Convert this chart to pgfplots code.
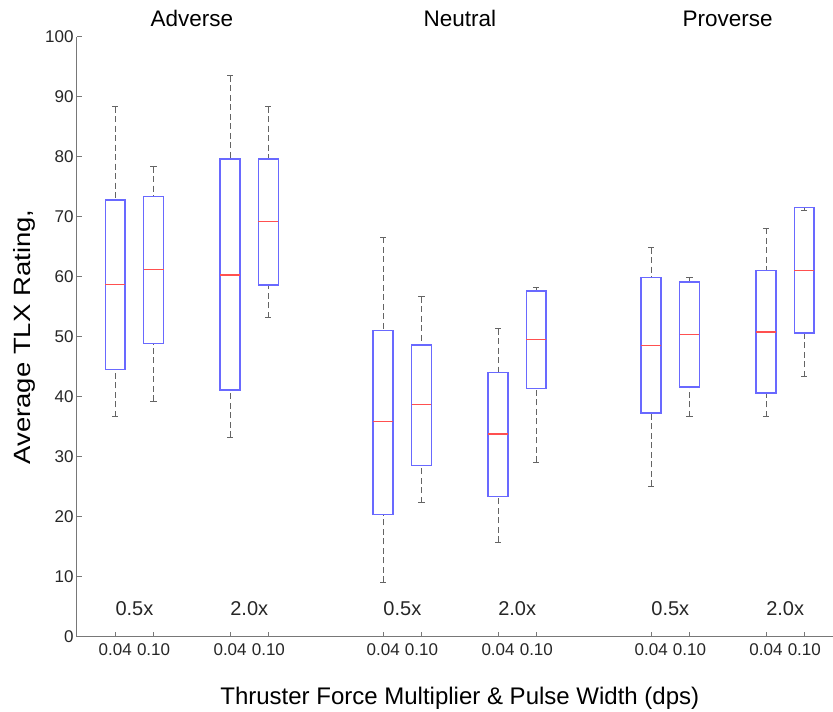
\documentclass[border=0pt]{standalone}
\usepackage{fontspec}
\setmainfont{Liberation Sans}
\usepackage{pgfplots}
\pgfplotsset{compat=1.18}
\usepgfplotslibrary{statistics}

\definecolor{boxblue}{RGB}{105,105,255}
\definecolor{medred}{RGB}{255,80,80}
\definecolor{whisk}{RGB}{100,100,100}
\definecolor{axgray}{RGB}{120,120,120}

\pgfplotsset{
 mybox/.style={
  boxplot/draw direction=y,
  boxplot/box extend=0.52,
  boxplot/whisker extend=0.16,
  boxplot/every box/.style={draw=boxblue, line width=1.6pt},
  boxplot/every median/.style={draw=medred, line width=1.4pt},
  boxplot/draw/lower whisker/.code={%
    \draw[whisk, dash pattern=on 6pt off 3.5pt, line width=1pt]
      (boxplot cs:\pgfplotsboxplotvalue{lower whisker}) -- (boxplot cs:\pgfplotsboxplotvalue{lower quartile});
    \draw[whisk, line width=1pt]
      (boxplot whisker cs:\pgfplotsboxplotvalue{lower whisker},0) -- (boxplot whisker cs:\pgfplotsboxplotvalue{lower whisker},1);
  },
  boxplot/draw/upper whisker/.code={%
    \draw[whisk, dash pattern=on 6pt off 3.5pt, line width=1pt]
      (boxplot cs:\pgfplotsboxplotvalue{upper whisker}) -- (boxplot cs:\pgfplotsboxplotvalue{upper quartile});
    \draw[whisk, line width=1pt]
      (boxplot whisker cs:\pgfplotsboxplotvalue{upper whisker},0) -- (boxplot whisker cs:\pgfplotsboxplotvalue{upper whisker},1);
  },
 },
}
\tikzset{
 grp/.style={anchor=base, font=\fontsize{20}{20}\selectfont, text=black!85},
 ttl/.style={anchor=base, font=\fontsize{22.5}{22.5}\selectfont},
}

\begin{document}
\begin{tikzpicture}
\begin{axis}[
  name=ax,
  width=756pt, height=600pt, scale only axis,
  xmin=-1, xmax=18.75, ymin=0, ymax=100,
  axis x line=bottom, axis y line=left,
  axis line style={-, draw=axgray, line width=1pt},
  xtick={0,1,3,4,7,8,10,11,14,15,17,18},
  xticklabels={0.04,0.10,0.04,0.10,0.04,0.10,0.04,0.10,0.04,0.10,0.04,0.10},
  ytick={0,10,...,100},
  tick align=inside, major tick length=5pt,
  tick style={draw=axgray, line width=1pt},
  ticklabel style={font=\fontsize{17}{17}\selectfont, text=black!85},
  xticklabel style={yshift=-3pt},
  /pgf/number format/assume math mode=true,
  clip=false,
]
\addplot[mybox, boxplot prepared={draw position=0, lower whisker=36.7, lower quartile=44.6, median=58.7, upper quartile=72.8, upper whisker=88.4}] coordinates {};
\addplot[mybox, boxplot prepared={draw position=1, lower whisker=39.3, lower quartile=48.9, median=61.2, upper quartile=73.4, upper whisker=78.4}] coordinates {};
\addplot[mybox, boxplot prepared={draw position=3, lower whisker=33.3, lower quartile=41.2, median=60.3, upper quartile=79.7, upper whisker=93.5}] coordinates {};
\addplot[mybox, boxplot prepared={draw position=4, lower whisker=53.2, lower quartile=58.7, median=69.2, upper quartile=79.7, upper whisker=88.4}] coordinates {};
\addplot[mybox, boxplot prepared={draw position=7, lower whisker=9.1, lower quartile=20.4, median=35.9, upper quartile=51.1, upper whisker=66.6}] coordinates {};
\addplot[mybox, boxplot prepared={draw position=8, lower whisker=22.4, lower quartile=28.6, median=38.7, upper quartile=48.7, upper whisker=56.7}] coordinates {};
\addplot[mybox, boxplot prepared={draw position=10, lower whisker=15.8, lower quartile=23.4, median=33.8, upper quartile=44.1, upper whisker=51.4}] coordinates {};
\addplot[mybox, boxplot prepared={draw position=11, lower whisker=29.1, lower quartile=41.4, median=49.6, upper quartile=57.7, upper whisker=58.3}] coordinates {};
\addplot[mybox, boxplot prepared={draw position=14, lower whisker=25.1, lower quartile=37.3, median=48.6, upper quartile=59.9, upper whisker=64.9}] coordinates {};
\addplot[mybox, boxplot prepared={draw position=15, lower whisker=36.7, lower quartile=41.7, median=50.4, upper quartile=59.2, upper whisker=59.9}] coordinates {};
\addplot[mybox, boxplot prepared={draw position=17, lower whisker=36.7, lower quartile=40.7, median=50.8, upper quartile=61.1, upper whisker=68.1}] coordinates {};
\addplot[mybox, boxplot prepared={draw position=18, lower whisker=43.4, lower quartile=50.7, median=61.1, upper quartile=71.6, upper whisker=71.1}] coordinates {};

% group titles
\node[ttl] at (axis cs:2,101.7) {Adverse};
\node[ttl] at (axis cs:9,101.7) {Neutral};
\node[ttl] at (axis cs:16,101.7) {Proverse};
% multiplier labels
\node[grp] at (axis cs:0.5,3.6) {0.5x};
\node[grp] at (axis cs:3.5,3.6) {2.0x};
\node[grp] at (axis cs:7.5,3.6) {0.5x};
\node[grp] at (axis cs:10.5,3.6) {2.0x};
\node[grp] at (axis cs:14.5,3.6) {0.5x};
\node[grp] at (axis cs:17.5,3.6) {2.0x};
% axis labels
\node[anchor=base, font=\fontsize{24}{24}\selectfont] at (axis cs:9,-11.3) {Thruster Force Multiplier \& Pulse Width (dps)};
\node[anchor=base, rotate=90, font=\fontsize{23.5}{23.5}\selectfont] at (axis cs:-2.215,50) {\scalebox{1.17}[1]{Average TLX Rating,}};
\end{axis}
\pgfresetboundingbox
\path[use as bounding box] ([xshift=-77pt,yshift=-75pt]ax.south west) rectangle ([yshift=37pt]ax.north east);
\end{tikzpicture}
\end{document}
